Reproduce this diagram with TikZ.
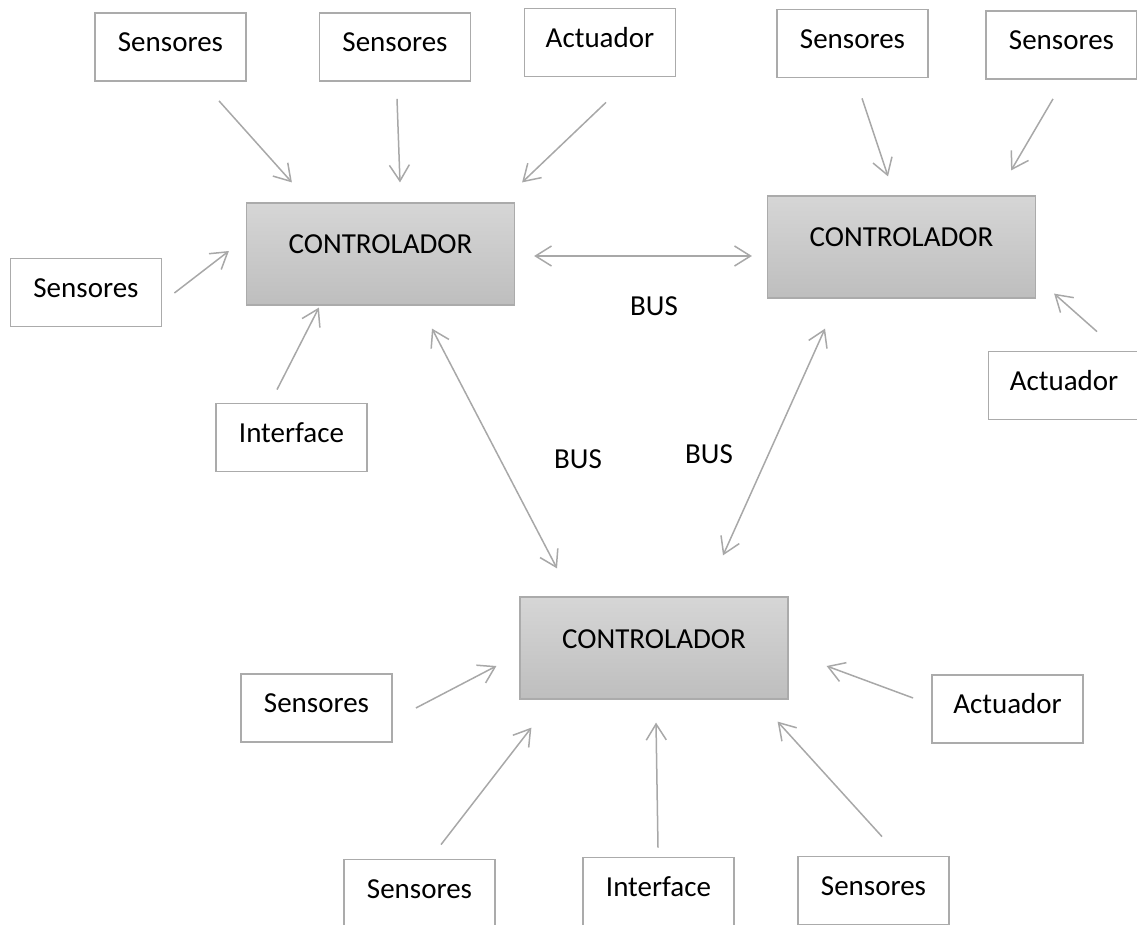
\documentclass[tikz,border=0pt]{standalone}
\usepackage{fontspec}
\setmainfont{Carlito}
\usepackage{tikz}
\usetikzlibrary{%
  arrows.meta,%
  calc%
}
\definecolor{boxgray}{HTML}{ABABAB}
\definecolor{arrgray}{HTML}{A8A8A8}
\definecolor{ctrltop}{HTML}{D6D6D6}
\definecolor{ctrlbot}{HTML}{BEBEBE}

\begin{document}
\begin{tikzpicture}[x=1pt,y=-1pt,
  every node/.style={font=\fontsize{29}{35}\selectfont},
  box/.style={draw=boxgray,line width=1.8pt,fill=white,minimum width=151pt,
    minimum height=68pt,inner sep=0pt,text height=20pt,text depth=10.3pt},
  ctrl/.style={draw=boxgray,line width=1.2pt,top color=ctrltop,bottom color=ctrlbot,
    minimum width=268pt,minimum height=102pt,inner sep=0pt,text height=20pt,text depth=20pt},
  arr/.style={draw=arrgray,line width=1.5pt,-{Straight Barb[length=16pt,width=20pt]}},
  bus/.style={draw=arrgray,line width=1.5pt,{Straight Barb[length=16pt,width=20pt]}-{Straight Barb[length=16pt,width=20pt]}}]

\useasboundingbox (0,0) rectangle (1137,925);

% controladores
\node[ctrl] (c1) at (380.5,254) {CONTROLADOR};
\node[ctrl] (c2) at (901.5,247) {CONTROLADOR};
\node[ctrl] (c3) at (654,648) {CONTROLADOR};
%
\node[box] (s1) at (170.5,47) {Sensores};
\node[box] (s2) at (395,47) {Sensores};
\node[box] (a1) at (600,42.5) {Actuador};
\node[box] (s5) at (86,292.5) {Sensores};
\node[box] (i1) at (291.5,437.5) {Interface};
%
\node[box] (s3) at (852.5,43.5) {Sensores};
\node[box] (s4) at (1061.5,45) {Sensores};
\node[box] (a2) at (1064,385.5) {Actuador};
%
\node[box] (s6) at (316.5,708) {Sensores};
\node[box] (s7) at (419.5,893.5) {Sensores};
\node[box] (i2) at (658.5,891.5) {Interface};
\node[box] (s8) at (873.5,890.5) {Sensores};
\node[box] (a3) at (1007.5,709) {Actuador};
%
\node (bus12) at (654,306) {BUS};
\node (bus13) at (578,459) {BUS};
\node (bus23) at (709,454) {BUS};

\draw[arr] ([shift={(48.5,19)}]s1.south) -- ([shift={(46,-20)}]c1.north west);
\draw[arr] ([shift={(2,17)}]s2.south) -- ([shift={(19.5,-20)}]c1.north);
\draw[arr] ([shift={(6,25)}]a1.south) -- ([shift={(7,-20)}]c1.north east);
\draw[arr] ([shift={(12,0.5)}]s5.east) -- ([shift={(-17,-3)}]c1.west);
\draw[arr] ([shift={(-14.5,-13)}]i1.north) -- ([shift={(73,2)}]c1.south west);
%
\draw[arr] ([shift={(9.5,20)}]s3.south) -- ([shift={(-13.5,-19)}]c2.north);
\draw[arr] ([shift={(-8.5,19)}]s4.south) -- ([shift={(-25,-25)}]c2.north east);
\draw[arr] ([shift={(33,-19)}]a2.north) -- ([shift={(18,-5)}]c2.south east);
%
\draw[arr] ([shift={(23,0)}]s6.east) -- ([shift={(-23,18)}]c3.west);
\draw[arr] ([shift={(21.5,-14)}]s7.north) -- ([shift={(12,28)}]c3.south west);
\draw[arr] ([shift={(-0.5,-9)}]i2.north) -- ([shift={(2,23)}]c3.south);
\draw[arr] ([shift={(8.5,-19)}]s8.north) -- ([shift={(-11,22)}]c3.south east);
\draw[arr] ([shift={(-18,-11)}]a3.west) -- ([shift={(38,18)}]c3.east);
%
\draw[bus] ([shift={(19,2)}]c1.east) -- ([shift={(-15,9)}]c2.west);
\draw[bus] ([shift={(51.5,23)}]c1.south) -- ([shift={(-97,-28)}]c3.north);
\draw[bus] ([shift={(-76.5,30)}]c2.south) -- ([shift={(69,-41)}]c3.north);
\end{tikzpicture}
\end{document}
